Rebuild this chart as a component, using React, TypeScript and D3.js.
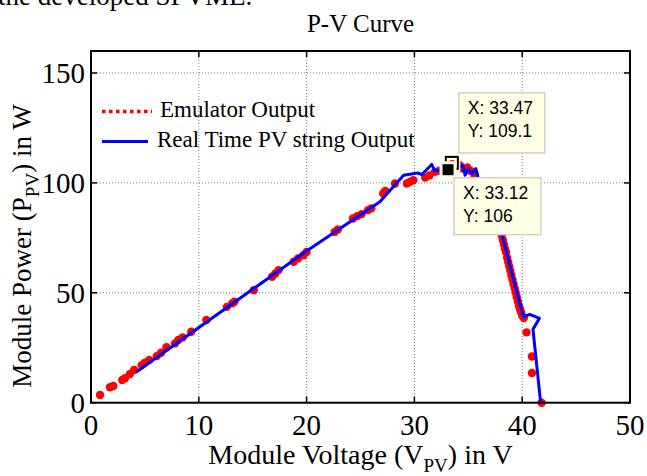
import React from "react";
import * as d3 from "d3";

const xTicks = [0, 10, 20, 30, 40, 50];
const yTicks = [0, 50, 100, 150];

// Emulator output (red dots): voltage, power
const emuV = [0.84, 1.76, 2.07, 2.9, 3.15, 3.6, 4.0, 4.7, 5.0, 5.4, 6.1, 6.5, 7.0, 7.8, 8.1, 8.5, 9.3, 10.7, 12.6, 13.1, 13.3, 15.1, 16.8, 17.1, 17.4, 18.8, 19.2, 19.7, 20.0, 22.6, 22.9, 24.3, 24.7, 25.1, 25.7, 26.0, 27.1, 27.3, 28.2, 29.3, 29.6, 29.9, 31.0, 31.4, 31.9, 32.3, 32.7, 33.1, 33.5, 34.2, 34.5, 34.9, 35.2, 35.6, 36.2, 36.8, 37.3, 37.7, 38.1, 38.2, 38.3, 38.4, 38.5, 38.6, 38.7, 38.8, 38.9, 39.0, 39.1, 39.2, 39.3, 39.4, 39.5, 39.6, 39.7, 39.8, 39.9, 40.0, 40.15, 40.4, 40.9, 40.9, 41.8];
const emuP = [3.5, 7.0, 7.6, 10.3, 11.1, 13.0, 14.9, 17.1, 18.2, 19.4, 21.2, 22.7, 25.2, 27.0, 28.5, 29.7, 32.3, 37.6, 43.6, 45.2, 45.9, 51.2, 57.3, 58.8, 60.3, 64.1, 65.6, 67.1, 68.6, 77.7, 78.8, 83.8, 84.9, 85.8, 87.6, 88.4, 95.2, 96.3, 99.7, 99.7, 100.5, 101.2, 102.4, 103.4, 105.0, 105.5, 106.5, 106.0, 108.5, 108.0, 106.5, 107.0, 105.5, 103.0, 99.0, 93.0, 88.0, 82.0, 76.0, 74.0, 72.0, 70.0, 68.5, 66.0, 64.0, 62.0, 60.0, 58.0, 56.0, 54.0, 52.0, 50.0, 48.0, 46.0, 44.0, 42.5, 41.0, 39.5, 38.5, 32.0, 21.0, 13.5, 0.0];

// Real time PV string output (blue line)
const pvV = [4.2, 20.0, 26.8, 29.0, 30.3, 30.7, 31.6, 31.9, 32.5, 33.1, 33.5, 34.0, 34.5, 34.7, 35.0, 35.3, 35.7, 35.9, 36.5, 37.3, 38.2, 38.6, 39.0, 39.4, 39.8, 40.15, 40.7, 41.6, 41.0, 41.7];
const pvP = [14.0, 69.0, 91.4, 103.5, 104.5, 103.8, 108.4, 105.5, 106.0, 106.5, 109.0, 107.0, 108.0, 103.5, 106.5, 104.0, 106.5, 102.5, 97.0, 88.0, 75.0, 67.5, 60.0, 52.5, 45.0, 39.0, 40.2, 38.4, 33.4, 0.5];

// Data tips
const tipV = [33.47, 33.12];
const tipP = [109.1, 106];
const tipLabelsX = ["X: 33.47", "X: 33.12"];
const tipLabelsY = ["Y: 109.1", "Y: 106"];

const legendLabels = ["Emulator Output", "Real Time PV string Output"];

const W = 647;
const H = 476;
const L = 91, R = 630, T = 51, B = 402.7;

export default function App() {
  const xs = d3.scaleLinear().domain([0, 50]).range([L, R]);
  const ys = d3.scaleLinear().domain([0, 160]).range([B, T]);
  const pvLine = d3
    .line<number>()
    .x((_, i) => xs(pvV[i]))
    .y((_, i) => ys(pvP[i]));
  const serif = "'Liberation Serif', 'Times New Roman', serif";
  const sans = "'Liberation Sans', Arial, sans-serif";
  const tickLen = 6;

  const boxes = [
    { dx: 7, dy: -70, w: 86, h: 60 },
    { dx: 6, dy: 8, w: 87, h: 57 },
  ];

  return (
    <svg
      width={W}
      height={H}
      style={{ position: "absolute", left: 0, top: 0, background: "#fff" }}
    >
      <rect x={0} y={0} width={W} height={H} fill="#fff" />
      <text x={-2} y={5} fontFamily={serif} fontSize={27} fill="#000">
        the developed SPVME.
      </text>
      <text
        x={(L + R) / 2}
        y={32}
        textAnchor="middle"
        fontFamily={serif}
        fontSize={25}
        fill="#000"
      >
        P-V Curve
      </text>

      {xTicks
        .filter((t) => t > 0 && t < 50)
        .map((t) => (
          <line
            key={"gx" + t}
            x1={xs(t)}
            x2={xs(t)}
            y1={T}
            y2={B}
            stroke="#7a7a7a"
            strokeWidth={1}
            strokeDasharray="1,2"
          />
        ))}
      {yTicks
        .filter((t) => t > 0)
        .map((t) => (
          <line
            key={"gy" + t}
            x1={L}
            x2={R}
            y1={ys(t)}
            y2={ys(t)}
            stroke="#7a7a7a"
            strokeWidth={1}
            strokeDasharray="1,2"
          />
        ))}

      {xTicks.map((t) => (
        <g key={"tx" + t}>
          <line x1={xs(t)} x2={xs(t)} y1={B} y2={B - tickLen} stroke="#000" strokeWidth={1.5} />
          <line x1={xs(t)} x2={xs(t)} y1={T} y2={T + tickLen} stroke="#000" strokeWidth={1.5} />
          <text
            x={xs(t)}
            y={435}
            textAnchor="middle"
            fontFamily={serif}
            fontSize={29}
            fill="#000"
          >
            {t}
          </text>
        </g>
      ))}
      {yTicks.map((t) => (
        <g key={"ty" + t}>
          <line x1={L} x2={L + tickLen} y1={ys(t)} y2={ys(t)} stroke="#000" strokeWidth={1.5} />
          <line x1={R} x2={R - tickLen} y1={ys(t)} y2={ys(t)} stroke="#000" strokeWidth={1.5} />
          <text
            x={L - 6}
            y={ys(t) + 10}
            textAnchor="end"
            fontFamily={serif}
            fontSize={29}
            fill="#000"
          >
            {t}
          </text>
        </g>
      ))}

      {emuV.map((v, i) => (
        <circle key={"e" + i} cx={xs(v)} cy={ys(emuP[i])} r={4.2} fill="#ff0000" />
      ))}
      <path
        d={pvLine(pvV) || ""}
        fill="none"
        stroke="#0000ff"
        strokeWidth={3}
        strokeLinejoin="round"
      />

      <rect x={L} y={T} width={R - L} height={B - T} fill="none" stroke="#000" strokeWidth={2} />

      <line x1={102} x2={152} y1={111.5} y2={111.5} stroke="#ff0000" strokeWidth={3.5} strokeDasharray="3.5,3.5" />
      <text x={160} y={117} fontFamily={serif} fontSize={23} fill="#000">
        {legendLabels[0]}
      </text>
      <line x1={102} x2={148} y1={141.5} y2={141.5} stroke="#0000ff" strokeWidth={3} />
      <text x={157} y={147} fontFamily={serif} fontSize={23} fill="#000">
        {legendLabels[1]}
      </text>

      <rect
        x={xs(tipV[0]) - 6}
        y={ys(tipP[0]) - 6}
        width={12}
        height={12}
        fill="none"
        stroke="#ffffe6"
        strokeWidth={5}
      />
      <rect
        x={xs(tipV[0]) - 6}
        y={ys(tipP[0]) - 6}
        width={12}
        height={12}
        fill="none"
        stroke="#000"
        strokeWidth={2}
      />
      <rect
        x={xs(tipV[1]) - 7}
        y={ys(tipP[1]) - 7}
        width={14}
        height={14}
        fill="#000"
        stroke="#ffffe6"
        strokeWidth={3}
      />

      {tipV.map((v, i) => {
        const bx = xs(v) + boxes[i].dx;
        const by = ys(tipP[i]) + boxes[i].dy;
        return (
          <g key={"tip" + i}>
            <rect
              x={bx}
              y={by}
              width={boxes[i].w}
              height={boxes[i].h}
              fill="#ffffe6"
              stroke="#d2d2c4"
              strokeWidth={1.5}
            />
            <text x={bx + 9} y={by + 21} fontFamily={sans} fontSize={17.5} fill="#000">
              {tipLabelsX[i]}
            </text>
            <text x={bx + 9} y={by + 44} fontFamily={sans} fontSize={17.5} fill="#000">
              {tipLabelsY[i]}
            </text>
          </g>
        );
      })}

      <text
        x={(L + R) / 2}
        y={464}
        textAnchor="middle"
        fontFamily={serif}
        fontSize={28}
        fill="#000"
      >
        Module Voltage (V
        <tspan fontSize={19} dy={8}>PV</tspan>
        <tspan dy={-8}>) in V</tspan>
      </text>
      <text
        transform={`translate(31,246) rotate(-90)`}
        textAnchor="middle"
        fontFamily={serif}
        fontSize={27}
        fill="#000"
      >
        Module Power (P
        <tspan fontSize={19} dy={8}>PV</tspan>
        <tspan dy={-8}>) in W</tspan>
      </text>
    </svg>
  );
}
